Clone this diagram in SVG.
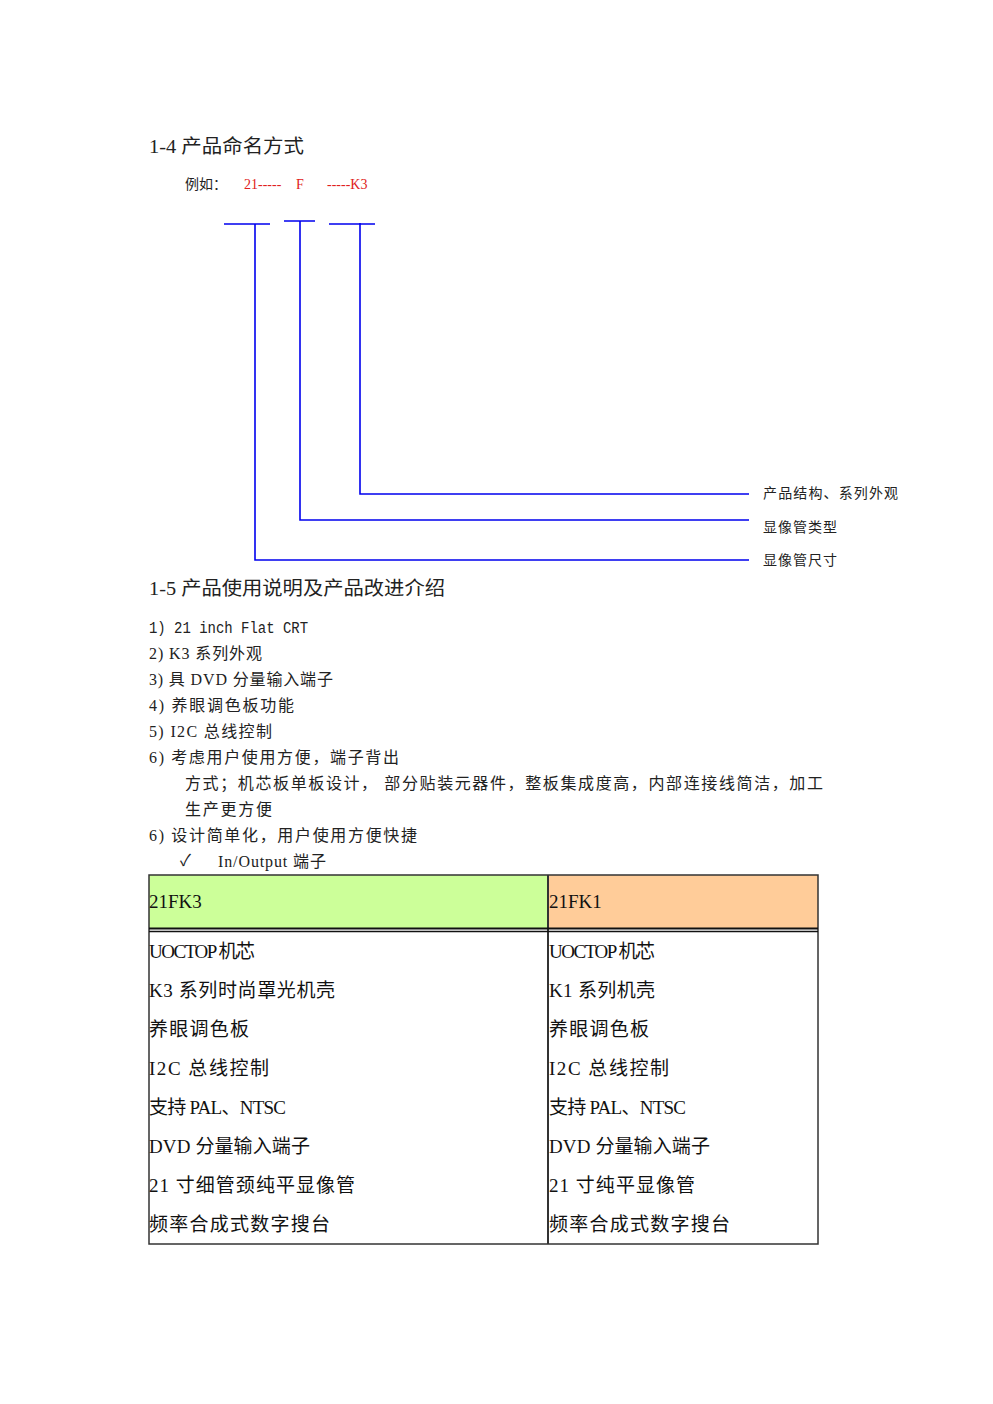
<svg xmlns="http://www.w3.org/2000/svg" width="993" height="1404" viewBox="0 0 993 1404">
<style>
.s{font-family:"Liberation Serif","Noto Sans CJK SC",serif;fill:#222}
.h{font-size:19px}
.b{font-size:16px}
.m{font-family:"Liberation Mono","Noto Sans CJK SC",monospace;font-size:16px;fill:#222}
.r{font-family:"Liberation Serif","Noto Sans CJK SC",serif;font-size:14px;fill:#e02020}
.l{font-size:14px}
.t{font-family:"Liberation Serif","Noto Sans CJK SC",serif;font-size:19px;fill:#111}
.ln{stroke:#0000ee;stroke-width:1.6;fill:none}
</style>
<rect width="993" height="1404" fill="#fff"/>
<text class="s h" x="149" y="153" textLength="155" lengthAdjust="spacingAndGlyphs">1-4  产品命名方式</text>
<text class="s l" x="185" y="189">例如：</text>
<text class="r" x="244" y="189">21-----</text>
<text class="r" x="296" y="189">F</text>
<text class="r" x="327" y="189">-----K3</text>
<g id="connectors">
<path class="ln" d="M224 224H270M255 224V560H749"/>
<path class="ln" d="M284 221H315M300 221V520H749"/>
<path class="ln" d="M329 224H375M360 223V494H749"/>
</g>
<g id="labels">
<text class="s l" x="763" y="498" textLength="135">产品结构、系列外观</text>
<text class="s l" x="763" y="532" textLength="74">显像管类型</text>
<text class="s l" x="763" y="565" textLength="74">显像管尺寸</text>
</g>
<text class="s h" x="149" y="595" textLength="296" lengthAdjust="spacingAndGlyphs">1-5  产品使用说明及产品改进介绍</text>
<text class="m" x="149" y="633" textLength="159" lengthAdjust="spacingAndGlyphs">1) 21 inch Flat CRT</text>
<text class="s b" x="149" y="659" textLength="113">2) K3 系列外观</text>
<text class="s b" x="149" y="685" textLength="184">3)  具 DVD  分量输入端子</text>
<text class="s b" x="149" y="711" textLength="145">4)  养眼调色板功能</text>
<text class="s b" x="149" y="737" textLength="123">5) I2C  总线控制</text>
<text class="s b" x="149" y="763" textLength="250">6)  考虑用户使用方便，端子背出</text>
<text class="s b" x="185" y="789" textLength="638">方式；机芯板单板设计，  部分贴装元器件，整板集成度高，内部连接线简洁，加工</text>
<text class="s b" x="185" y="815" textLength="87">生产更方便</text>
<text class="s b" x="149" y="841" textLength="268">6)  设计简单化，用户使用方便快捷</text>
<text class="s b" x="180" y="866">✓</text>
<text class="s b" x="218" y="867" textLength="108">In/Output  端子</text>
<g id="table">
<rect x="149" y="875" width="399" height="53" fill="#ccff99"/>
<rect x="548" y="875" width="270" height="53" fill="#ffcc99"/>
<rect x="149" y="875" width="669" height="369" fill="none" stroke="#333" stroke-width="1.5"/>
<line x1="548" y1="875" x2="548" y2="1244" stroke="#333" stroke-width="2"/>
<line x1="149" y1="928.5" x2="818" y2="928.5" stroke="#111" stroke-width="2"/>
<line x1="149" y1="931.5" x2="818" y2="931.5" stroke="#111" stroke-width="1.5"/>
<text class="t" x="149" y="908">21FK3</text>
<text class="t" x="549" y="908">21FK1</text>
<text class="t" x="149" y="958" textLength="106">UOCTOP 机芯</text>
<text class="t" x="149" y="997" textLength="186">K3 系列时尚罩光机壳</text>
<text class="t" x="149" y="1036" textLength="100">养眼调色板</text>
<text class="t" x="149" y="1075" textLength="120">I2C  总线控制</text>
<text class="t" x="149" y="1114" textLength="137">支持 PAL、NTSC</text>
<text class="t" x="149" y="1153" textLength="161">DVD  分量输入端子</text>
<text class="t" x="149" y="1192" textLength="206">21 寸细管颈纯平显像管</text>
<text class="t" x="149" y="1231" textLength="181">频率合成式数字搜台</text>
<text class="t" x="549" y="958" textLength="106">UOCTOP 机芯</text>
<text class="t" x="549" y="997" textLength="106">K1 系列机壳</text>
<text class="t" x="549" y="1036" textLength="100">养眼调色板</text>
<text class="t" x="549" y="1075" textLength="120">I2C  总线控制</text>
<text class="t" x="549" y="1114" textLength="137">支持 PAL、NTSC</text>
<text class="t" x="549" y="1153" textLength="161">DVD  分量输入端子</text>
<text class="t" x="549" y="1192" textLength="146">21 寸纯平显像管</text>
<text class="t" x="549" y="1231" textLength="181">频率合成式数字搜台</text>
</g>
</svg>
